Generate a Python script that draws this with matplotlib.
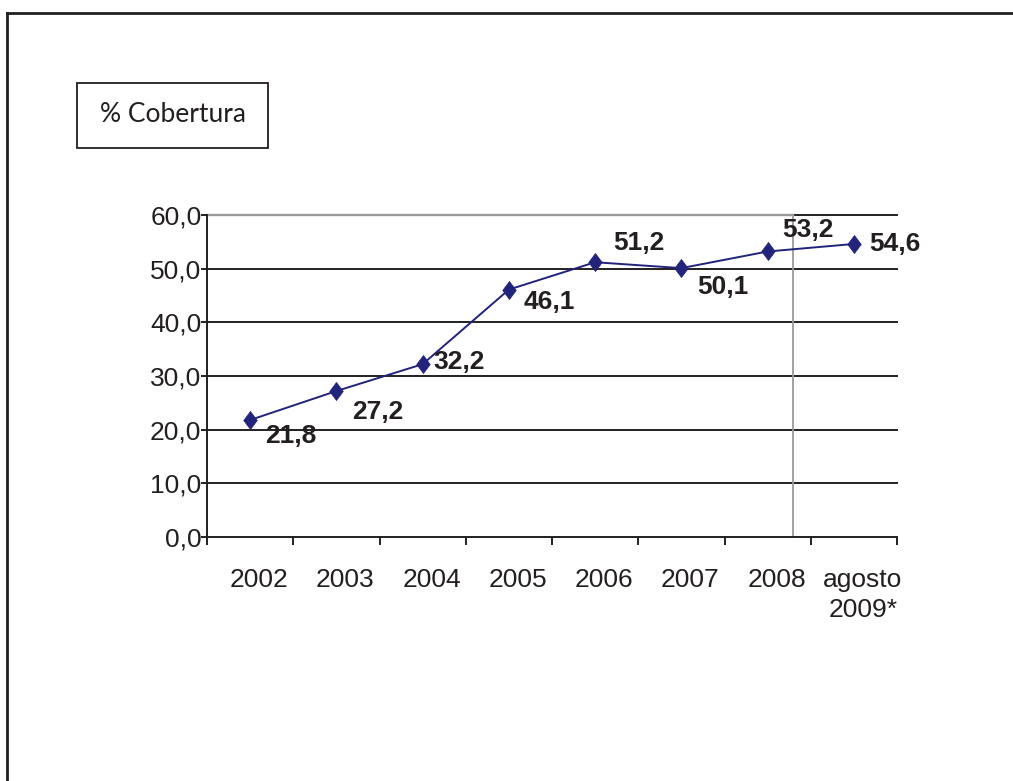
import matplotlib
matplotlib.use("Agg")
import matplotlib.pyplot as plt
import matplotlib.transforms as mtransforms
from matplotlib.patches import Rectangle
from matplotlib.lines import Line2D
from matplotlib.path import Path

plt.rcParams["font.family"] = ["Liberation Sans", "DejaVu Sans"]

categories = ["2002", "2003", "2004", "2005", "2006", "2007", "2008", "agosto\n2009*"]
values = [21.8, 27.2, 32.2, 46.1, 51.2, 50.1, 53.2, 54.6]
value_labels = ["21,8", "27,2", "32,2", "46,1", "51,2", "50,1", "53,2", "54,6"]
yticks = [0, 10, 20, 30, 40, 50, 60]
ytick_labels = ["0,0", "10,0", "20,0", "30,0", "40,0", "50,0", "60,0"]
legend_text = "% Cobertura"

# label offsets in pixels (dx, dy down-positive)
label_offsets_px = [(15, 16), (16, 21), (11, -2), (15, 12), (18, -19), (16, 19), (15, -21), (15, 0)]

W, H = 1013, 781
fig = plt.figure(figsize=(W / 100, H / 100), dpi=100)
fig.patch.set_facecolor("white")

dark = "#231f20"
gray = "#9a9a9c"
navy = "#22237a"

ax = fig.add_axes([207 / W, (H - 537) / H, (897 - 207) / W, (537 - 215) / H])
ax.set_xlim(-0.5, len(categories) - 0.5)
ax.set_ylim(0, 60)

for s in ["top", "right"]:
    ax.spines[s].set_visible(False)
for s in ["left", "bottom"]:
    ax.spines[s].set_color(dark)
    ax.spines[s].set_linewidth(1.4)

# gridlines
for yv in yticks[1:]:
    ax.axhline(yv, color=dark, lw=1.4, zorder=1, clip_on=False)
# gray part of the top line and vertical gray line
ax.plot([-0.5, 6.29], [60, 60], color=gray, lw=1.7, zorder=1.5, clip_on=False)
ax.axvline(6.29, color=gray, lw=1.3, zorder=1.5)

diamond = Path([(0, 1), (0.75, 0), (0, -1), (-0.75, 0), (0, 1)],
               [Path.MOVETO, Path.LINETO, Path.LINETO, Path.LINETO, Path.CLOSEPOLY])

x = list(range(len(categories)))
ax.plot(x, values, color=navy, lw=1.4, marker=diamond, markersize=13,
        markerfacecolor=navy, markeredgecolor=navy, markeredgewidth=0.5,
        zorder=3, clip_on=False)

# ticks
ax.set_yticks(yticks)
ax.set_yticklabels(ytick_labels, fontsize=19, color=dark)
ax.tick_params(axis="y", direction="out", length=4, width=1.4, color=dark, pad=0)

ax.set_xticks([i - 0.5 for i in range(len(categories) + 1)])
ax.set_xticklabels([])
ax.tick_params(axis="x", direction="out", length=6, width=1.4, color=dark)
ax.set_xticks(x, minor=True)
ax.set_xticklabels(categories, minor=True, fontsize=19, color=dark, linespacing=1.35)
ax.tick_params(axis="x", which="minor", length=0, pad=22)
offset = mtransforms.ScaledTranslation(0.09, 0, fig.dpi_scale_trans)
for lab in ax.get_xticklabels(minor=True):
    lab.set_transform(lab.get_transform() + offset)

# value labels
for xi, v, lab, (dx, dy) in zip(x, values, value_labels, label_offsets_px):
    ax.annotate(lab, (xi, v), xytext=(dx * 0.72, -dy * 0.72), textcoords="offset points",
                ha="left", va="center", fontsize=19, fontweight="bold",
                color=dark, zorder=4)

# legend-like box
fig.patches.append(Rectangle((77 / W, (H - 148) / H), (268 - 77) / W, (148 - 83) / H,
                             transform=fig.transFigure, fill=False, edgecolor=dark, lw=1.3))
fig.text((77 + 268) / 2 / W, (H - 114) / H, legend_text, ha="center", va="center",
         fontsize=19, color=dark, family=["Lato", "DejaVu Sans"])

# outer border (top and left)
fig.lines.append(Line2D([7 / W, 1.0], [(H - 13) / H] * 2, transform=fig.transFigure,
                        color=dark, lw=2))
fig.lines.append(Line2D([7 / W] * 2, [0, (H - 13) / H], transform=fig.transFigure,
                        color=dark, lw=2))

fig.savefig("out.png", dpi=100, facecolor="white")
